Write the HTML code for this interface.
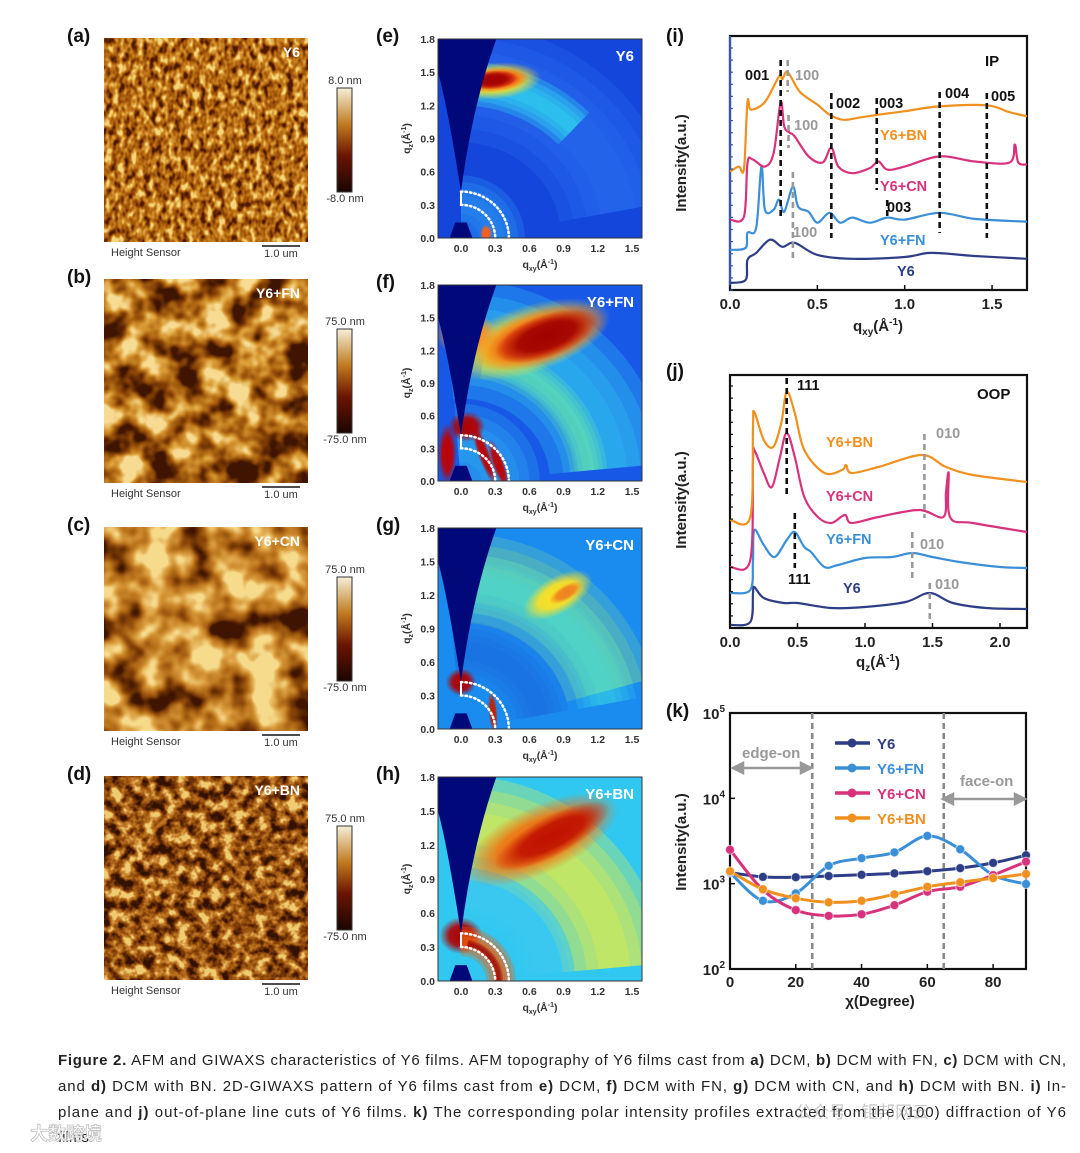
<!DOCTYPE html>
<html><head><meta charset="utf-8">
<style>
html,body{margin:0;padding:0;background:#fff;}
svg{display:block;font-family:"Liberation Sans","Noto Sans CJK SC",sans-serif;}
.b{font-weight:bold}
</style></head>
<body>
<svg id="fig" width="1080" height="1153" viewBox="0 0 1080 1153" xmlns="http://www.w3.org/2000/svg">
<defs id="defs">
  <linearGradient id="cbar" x1="0" y1="1" x2="0" y2="0">
    <stop offset="0" stop-color="#1a0500"/><stop offset="0.35" stop-color="#6a1500"/>
    <stop offset="0.65" stop-color="#c07a20"/><stop offset="1" stop-color="#f6efd8"/>
  </linearGradient>
  <filter id="afmFine" x="0" y="0" width="100%" height="100%" color-interpolation-filters="sRGB">
    <feTurbulence type="fractalNoise" baseFrequency="0.16 0.11" numOctaves="2" seed="4"/>
    <feColorMatrix type="matrix" values="2.2 0 0 0 -0.6  2.2 0 0 0 -0.6  2.2 0 0 0 -0.6  0 0 0 0 1"/>
    <feComponentTransfer>
      <feFuncR type="table" tableValues="0.3 0.56 0.72 0.84 0.96"/>
      <feFuncG type="table" tableValues="0.1 0.27 0.42 0.58 0.84"/>
      <feFuncB type="table" tableValues="0.0 0.02 0.07 0.18 0.48"/>
    </feComponentTransfer>
  </filter>
  <filter id="afmB" x="0" y="0" width="100%" height="100%" color-interpolation-filters="sRGB">
    <feTurbulence type="fractalNoise" baseFrequency="0.035" numOctaves="3" seed="11"/>
    <feColorMatrix type="matrix" values="2.6 0 0 0 -0.8  2.6 0 0 0 -0.8  2.6 0 0 0 -0.8  0 0 0 0 1"/>
    <feComponentTransfer>
      <feFuncR type="table" tableValues="0.25 0.5 0.7 0.86 0.97"/>
      <feFuncG type="table" tableValues="0.08 0.24 0.42 0.62 0.86"/>
      <feFuncB type="table" tableValues="0.0 0.02 0.08 0.22 0.58"/>
    </feComponentTransfer>
  </filter>
  <filter id="afmC" x="0" y="0" width="100%" height="100%" color-interpolation-filters="sRGB">
    <feTurbulence type="fractalNoise" baseFrequency="0.028" numOctaves="3" seed="23"/>
    <feColorMatrix type="matrix" values="2.4 0 0 0 -0.6  2.4 0 0 0 -0.6  2.4 0 0 0 -0.6  0 0 0 0 1"/>
    <feComponentTransfer>
      <feFuncR type="table" tableValues="0.25 0.52 0.72 0.86 0.97"/>
      <feFuncG type="table" tableValues="0.08 0.26 0.44 0.62 0.86"/>
      <feFuncB type="table" tableValues="0.0 0.03 0.1 0.25 0.55"/>
    </feComponentTransfer>
  </filter>
  <filter id="afmD" x="0" y="0" width="100%" height="100%" color-interpolation-filters="sRGB">
    <feTurbulence type="fractalNoise" baseFrequency="0.09" numOctaves="3" seed="7"/>
    <feColorMatrix type="matrix" values="2.4 0 0 0 -0.7  2.4 0 0 0 -0.7  2.4 0 0 0 -0.7  0 0 0 0 1"/>
    <feComponentTransfer>
      <feFuncR type="table" tableValues="0.2 0.42 0.62 0.78 0.94"/>
      <feFuncG type="table" tableValues="0.07 0.18 0.34 0.5 0.8"/>
      <feFuncB type="table" tableValues="0.0 0.02 0.06 0.17 0.45"/>
    </feComponentTransfer>
  </filter>
</defs>
<rect x="0" y="0" width="1080" height="1153" fill="#ffffff"/>
<g id="afm"></g>
<g id="giwaxs"></g>
<g id="pi"></g>
<g id="pj"></g>
<g id="pk"></g>
<g id="caption" font-size="15" fill="#222">
  <text x="58" y="1065" textLength="1008" lengthAdjust="spacing"><tspan class="b">Figure 2.</tspan> AFM and GIWAXS characteristics of Y6 films. AFM topography of Y6 films cast from <tspan class="b">a)</tspan> DCM, <tspan class="b">b)</tspan> DCM with FN, <tspan class="b">c)</tspan> DCM with CN,</text>
  <text x="58" y="1091" textLength="1008" lengthAdjust="spacing">and <tspan class="b">d)</tspan> DCM with BN. 2D-GIWAXS pattern of Y6 films cast from <tspan class="b">e)</tspan> DCM, <tspan class="b">f)</tspan> DCM with FN, <tspan class="b">g)</tspan> DCM with CN, and <tspan class="b">h)</tspan> DCM with BN. <tspan class="b">i)</tspan> In-</text>
  <text x="58" y="1117" textLength="1008" lengthAdjust="spacing">plane and <tspan class="b">j)</tspan> out-of-plane line cuts of Y6 films. <tspan class="b">k)</tspan> The corresponding polar intensity profiles extracted from the (100) diffraction of Y6</text>
  <text x="58" y="1142">films.</text>
</g>
<g>
  <text x="30" y="1140" font-size="18" font-weight="bold" fill="#fff" stroke="#bbb" stroke-width="0.8" opacity="0.9">大数跨境</text>
  <text x="795" y="1118" font-size="17" fill="#999" opacity="0.55">公众号 · 钜邦网云</text>
</g>
</svg>
<script>
const NS='http://www.w3.org/2000/svg';
function mk(parent,tag,attrs,txt){const e=document.createElementNS(NS,tag);for(const k in attrs)e.setAttribute(k,attrs[k]);if(txt!==undefined)e.textContent=txt;parent.appendChild(e);return e;}
function nm(e,name,inter){
  
  
  return e;}
function spline(pts){
  let d='M'+pts[0][0].toFixed(1)+','+pts[0][1].toFixed(1);
  for(let i=0;i<pts.length-1;i++){
    const p0=pts[Math.max(0,i-1)],p1=pts[i],p2=pts[i+1],p3=pts[Math.min(pts.length-1,i+2)];
    const c1=[p1[0]+(p2[0]-p0[0])/6,p1[1]+(p2[1]-p0[1])/6];
    const c2=[p2[0]-(p3[0]-p1[0])/6,p2[1]-(p3[1]-p1[1])/6];
    d+=' C'+c1[0].toFixed(1)+','+c1[1].toFixed(1)+' '+c2[0].toFixed(1)+','+c2[1].toFixed(1)+' '+p2[0].toFixed(1)+','+p2[1].toFixed(1);
  }
  return d;}

/* ---------------- data: panel (i) in-plane ---------------- */
const iQ_Y6=[0,0.09,0.1,0.15,0.23,0.3,0.37,0.5,0.7,1.0,1.15,1.4,1.7];
const iV_Y6=[2.8,4,11.9,14.6,19.8,17,18.6,13.8,12.3,13,14.6,13.4,12.3];
const iQ_FN=[0,0.09,0.1,0.15,0.18,0.2,0.25,0.28,0.31,0.36,0.39,0.45,0.5,0.57,0.63,0.7,0.8,0.9,1.0,1.2,1.4,1.7];
const iV_FN=[15.8,16.6,22.5,24.5,48.6,31.6,31.6,35.6,30.8,40.7,32.8,30.8,26.5,30.4,26.5,28.5,26.5,28.5,27.7,30.4,28,26.9];
const iQ_CN=[0,0.08,0.1,0.13,0.2,0.25,0.29,0.31,0.34,0.37,0.45,0.53,0.58,0.62,0.7,0.8,0.85,0.9,1.0,1.2,1.4,1.6,1.63,1.65,1.7];
const iV_CN=[27.7,28.9,50,51.4,48.6,54,74,64.4,62,60.5,52.6,50.2,56,48.6,46,48,50.6,47.4,48.6,52.6,50.6,50.2,57.3,50.2,49.4];
const iQ_BN=[0,0.05,0.08,0.1,0.12,0.2,0.28,0.3,0.33,0.4,0.5,0.57,0.65,0.75,0.85,1.0,1.2,1.47,1.6,1.7];
const iV_BN=[46.6,48.6,47.8,74,71,74,84,83,85.8,78,73,69,67,68,69,70.4,72.3,72.7,70,68.4];
const iXTicks=[0,0.5,1.0,1.5];
const iXTickLabels=['0.0','0.5','1.0','1.5'];

/* ---------------- data: panel (j) out-of-plane ---------------- */
const jQ_Y6=[0,0.15,0.17,0.18,0.25,0.4,0.5,0.75,1.0,1.3,1.48,1.65,1.9,2.2];
const jV_Y6=[3,6,35,41,30,25,25,20,21,26,35,25,20,19];
const jQ_FN=[0,0.15,0.17,0.18,0.25,0.33,0.42,0.48,0.55,0.6,0.7,0.8,1.0,1.2,1.35,1.5,1.7,2.0,2.2];
const jV_FN=[35,38,68,98,83,71,88,96,81,76,61,63,70,71,75,71,66,61,60];
const jQ_CN=[0,0.15,0.17,0.18,0.25,0.31,0.37,0.42,0.48,0.55,0.65,0.75,0.85,0.9,1.1,1.4,1.58,1.6,1.62,1.63,1.8,2.2];
const jV_CN=[61,68,168,178,155,141,171,195,171,131,111,105,113,105,111,118,111,136,155,111,105,96];
const jQ_BN=[0,0.15,0.17,0.18,0.25,0.32,0.38,0.42,0.48,0.55,0.7,0.83,0.86,0.9,1.1,1.42,1.6,1.8,2.2];
const jV_BN=[108,111,201,216,188,181,205,236,215,178,155,158,163,155,161,173,161,153,146];
const jXTicks=[0,0.5,1.0,1.5,2.0];
const jXTickLabels=['0.0','0.5','1.0','1.5','2.0'];

/* ---------------- data: panel (k) polar ---------------- */
const kChi=[0,10,20,30,40,50,60,70,80,90];
const kY6=[1350,1200,1190,1230,1270,1320,1400,1520,1750,2150];
const kFN=[1350,630,770,1620,1990,2330,3630,2530,1260,990];
const kCN=[2500,845,490,420,438,560,805,920,1260,1810];
const kBN=[1400,860,675,605,630,750,920,1040,1160,1300];
const kXTicks=[0,20,40,60,80];
const kYTickExp=[2,3,4,5];

/* ---------------- AFM panels ---------------- */
const afm=document.getElementById('afm');
const afmPanels=[
 {lab:'(a)',y:38,cb:88,filt:'afmFine',name:'Y6',top:'8.0 nm',bot:'-8.0 nm'},
 {lab:'(b)',y:279,cb:329,filt:'afmB',name:'Y6+FN',top:'75.0 nm',bot:'-75.0 nm'},
 {lab:'(c)',y:527,cb:577,filt:'afmC',name:'Y6+CN',top:'75.0 nm',bot:'-75.0 nm'},
 {lab:'(d)',y:776,cb:826,filt:'afmD',name:'Y6+BN',top:'75.0 nm',bot:'-75.0 nm'}];
afmPanels.forEach((p,i)=>{
  const g=mk(afm,'g',{});
  nm(g,'afm-panel-'+'abcd'[i],false);
  const l=mk(g,'text',{x:67,y:p.y+4,'font-size':19,'font-weight':'bold',fill:'#111'},p.lab);
  nm(l,'panel-label',false);
  const r=mk(g,'rect',{x:104,y:p.y,width:204,height:204,filter:'url(#'+p.filt+')'});
  nm(r,'afm-image',false);
  const t=mk(g,'text',{x:300,y:p.y+19,'font-size':14,'font-weight':'bold',fill:'#fff','text-anchor':'end'},p.name);
  nm(t,'sample-label',false);
  const cb=mk(g,'rect',{x:337,y:p.cb,width:15,height:104,fill:'url(#cbar)',stroke:'#333','stroke-width':1});
  nm(cb,'colorbar',false);
  const ct=mk(g,'text',{x:345,y:p.cb-4,'font-size':11,fill:'#333','text-anchor':'middle'},p.top);
  nm(ct,'colorbar-max',false);
  const cbt=mk(g,'text',{x:345,y:p.cb+114,'font-size':11,fill:'#333','text-anchor':'middle'},p.bot);
  nm(cbt,'colorbar-min',false);
  const hs=mk(g,'text',{x:111,y:p.y+218,'font-size':11,fill:'#333'},'Height Sensor');
  nm(hs,'height-sensor-label',false);
  const sb=mk(g,'line',{x1:262,x2:300,y1:p.y+208,y2:p.y+208,stroke:'#111','stroke-width':1.5});
  nm(sb,'scale-bar',false);
  const st=mk(g,'text',{x:281,y:p.y+219,'font-size':11,fill:'#333','text-anchor':'middle'},'1.0 um');
  nm(st,'scale-bar-label',false);
});

/* ---------------- GIWAXS panels ---------------- */
const defs=document.getElementById('defs');
const gradCache={};
function rg(col){
  if(gradCache[col])return gradCache[col];
  const id='rg'+Object.keys(gradCache).length;
  const r=mk(defs,'radialGradient',{id:id});
  mk(r,'stop',{offset:'0','stop-color':col,'stop-opacity':1});
  mk(r,'stop',{offset:'0.55','stop-color':col,'stop-opacity':0.9});
  mk(r,'stop',{offset:'1','stop-color':col,'stop-opacity':0});
  gradCache[col]='url(#'+id+')';
  return gradCache[col];
}
const gw=document.getElementById('giwaxs');
const gwPanels=[
 {lab:'(e)',top:39,bot:238,name:'Y6',bg:'#1446dc'},
 {lab:'(f)',top:285,bot:481,name:'Y6+FN',bg:'#1858e6'},
 {lab:'(g)',top:528,bot:729,name:'Y6+CN',bg:'#1a8cf0'},
 {lab:'(h)',top:777,bot:981,name:'Y6+BN',bg:'#30c8f0'}];
const gTicks=[0,0.3,0.6,0.9,1.2,1.5];
const gYTicks=[0,0.3,0.6,0.9,1.2,1.5,1.8];
gwPanels.forEach((p,i)=>{
  const g=mk(gw,'g',{});
  nm(g,'giwaxs-panel-'+'efgh'[i],false);
  const X=q=>461+q*114, Y=q=>p.bot-q/1.8*(p.bot-p.top);
  const L=438,R=642;
  const cid='clip'+i;
  const cp=mk(g,'clipPath',{id:cid}); mk(cp,'rect',{x:L,y:p.top,width:R-L,height:p.bot-p.top});
  const lab=mk(g,'text',{x:376,y:p.top+3,'font-size':19,'font-weight':'bold',fill:'#111'},p.lab);
  nm(lab,'panel-label',false);
  const im=mk(g,'g',{'clip-path':'url(#'+cid+')'});
  nm(im,'giwaxs-image',false);
  mk(im,'rect',{x:L,y:p.top,width:R-L,height:p.bot-p.top,fill:p.bg});
  const ky=(p.bot-p.top)/1.8;
  const ring=(r1,r2,a1,a2,col,op)=>{ // soft ring made of stacked translucent arcs
    const rm=(r1+r2)/2, w=(r2-r1)*114;
    const A1=a1*Math.PI/180,A2=a2*Math.PI/180;
    const d='M'+X(rm*Math.cos(A1))+','+Y(rm*Math.sin(A1))+' A'+rm*114+','+rm*ky+' 0 0 0 '+X(rm*Math.cos(A2))+','+Y(rm*Math.sin(A2));
    [1.3,1.0,0.7,0.4].forEach(f=>{
      mk(im,'path',{d:d,fill:'none',stroke:col,'stroke-width':w*f,opacity:op*0.35});
    });
  };
  const blob=(cx,cy,rx,ry,rot,col)=>{
    mk(im,'ellipse',{cx:X(cx),cy:Y(cy),rx:rx*114*1.35,ry:ry*114*1.35,fill:rg(col),transform:'rotate('+rot+' '+X(cx)+' '+Y(cy)+')'});
  };
  if(i===0){
    ring(1.0,1.8,10,95,'#2a70f0',0.8);
    ring(1.25,1.55,45,95,'#30d8f0',0.9);
    blob(0.3,1.42,0.3,0.12,-5,'#ffe020');
    blob(0.3,1.43,0.22,0.08,-5,'#f04010');
    blob(0.28,1.43,0.16,0.06,-5,'#a00000');
    ring(0.1,0.5,0,90,'#2a90f0',0.9);
    blob(0.22,0.04,0.04,0.06,0,'#ff6010');
  } else if(i===1){
    ring(0.9,1.7,5,95,'#30c0f0',0.9);
    ring(1.0,1.25,5,80,'#70f0a0',0.6);
    blob(0.6,1.3,0.55,0.22,-18,'#ffd820');
    blob(0.7,1.32,0.45,0.18,-18,'#f05010');
    blob(0.75,1.33,0.35,0.14,-20,'#a00000');
    blob(0.05,1.35,0.2,0.15,0,'#ff9020');
    ring(0.0,0.6,0,95,'#30b0f0',0.8);
    blob(0.05,0.5,0.12,0.1,0,'#b00000');
    blob(-0.12,0.25,0.06,0.2,0,'#c00000');
    blob(0.2,0.25,0.04,0.22,-20,'#c00000');
    blob(0.33,0.15,0.04,0.18,-20,'#c00000');
  } else if(i===2){
    ring(0.5,0.9,10,95,'#1b6ce0',0.8);
    ring(1.05,1.65,15,95,'#a0f070',0.55);
    ring(1.1,1.5,10,95,'#40e0e0',0.5);
    blob(0.85,1.2,0.25,0.12,-30,'#ffe020');
    blob(0.92,1.22,0.12,0.05,-30,'#f08020');
    blob(0,0.42,0.1,0.09,0,'#b00000');
    blob(0.28,0.15,0.03,0.14,-5,'#c02000');
  } else {
    ring(1.0,1.7,5,95,'#e8f040',0.9);
    ring(0.6,0.95,5,95,'#40c8f0',0.8);
    blob(0.7,1.25,0.55,0.22,-25,'#f07010');
    blob(0.8,1.28,0.42,0.13,-28,'#c01000');
    blob(0.0,0.4,0.14,0.12,0,'#b00000');
    ring(0.25,0.45,0,90,'#f06010',0.9);
    ring(0.3,0.36,0,80,'#a00000',0.9);
  }
  const w=mk(im,'path',{d:'M'+X(0)+','+Y(0.42)+' Q'+X(0.1)+','+Y(1.2)+' '+X(0.31)+','+Y(1.8)+' L'+L+','+Y(1.8)+' L'+L+','+Y(1.5)+' Q'+X(-0.12)+','+Y(1.2)+' '+X(0)+','+Y(0.42)+' Z',fill:'#00087a'});
  nm(w,'beamstop-wedge',false);
  mk(im,'path',{d:'M'+X(-0.1)+','+Y(0)+' L'+X(-0.05)+','+Y(0.14)+' L'+X(0.05)+','+Y(0.14)+' L'+X(0.1)+','+Y(0)+' Z',fill:'#00087a'});
  [0.3,0.42].forEach(r=>{
    const a=mk(im,'path',{d:'M'+X(0)+','+Y(r)+' A'+r*114+','+r*ky+' 0 0 1 '+X(r)+','+Y(0),fill:'none',stroke:'#fff','stroke-width':2.5,'stroke-dasharray':'1.5 3','stroke-linecap':'round'});
    nm(a,'integration-arc',false);
  });
  mk(im,'line',{x1:X(0),x2:X(0),y1:Y(0.3),y2:Y(0.42),stroke:'#fff','stroke-width':2});
  const sn=mk(g,'text',{x:R-8,y:p.top+22,'font-size':15,'font-weight':'bold',fill:'#fff','text-anchor':'end'},p.name);
  nm(sn,'sample-label',false);
  mk(g,'rect',{x:L,y:p.top,width:R-L,height:p.bot-p.top,fill:'none',stroke:'#333','stroke-width':1});
  gTicks.forEach(t=>{
    const tx=mk(g,'text',{x:X(t),y:p.bot+14,'font-size':10.5,'font-weight':'bold',fill:'#333','text-anchor':'middle'},t.toFixed(1));
    nm(tx,'x-tick-label',false);
  });
  gYTicks.forEach(t=>{
    const tx=mk(g,'text',{x:435,y:Y(t)+4,'font-size':10.5,'font-weight':'bold',fill:'#333','text-anchor':'end'},t.toFixed(1));
    nm(tx,'y-tick-label',false);
  });
  const xt=mk(g,'text',{x:540,y:p.bot+30,'font-size':10.5,'font-weight':'bold',fill:'#333','text-anchor':'middle'});
  nm(xt,'x-axis-title',false);
  xt.innerHTML='q<tspan font-size="7" dy="3">xy</tspan><tspan dy="-3">(Å</tspan><tspan font-size="7" dy="-4">-1</tspan><tspan dy="4">)</tspan>';
  const cy=(p.top+p.bot)/2;
  const yt=mk(g,'text',{x:0,y:0,'font-size':10.5,'font-weight':'bold',fill:'#333','text-anchor':'middle',transform:'translate(410,'+cy+') rotate(-90)'});
  nm(yt,'y-axis-title',false);
  yt.innerHTML='q<tspan font-size="7" dy="3">z</tspan><tspan dy="-3">(Å</tspan><tspan font-size="7" dy="-4">-1</tspan><tspan dy="4">)</tspan>';
});

/* ---------------- line panels common ---------------- */
function frame(g,L,T,R,B,lab,labY){
  const l=mk(g,'text',{x:666,y:labY,'font-size':19,'font-weight':'bold',fill:'#111'},lab);
  nm(l,'panel-label',false);
  const f=mk(g,'rect',{x:L,y:T,width:R-L,height:B-T,fill:'none',stroke:'#111','stroke-width':2.2});
  nm(f,'plot-frame',false);
}
function axTitleY(g,cx,cy,txt){
  const t=mk(g,'text',{x:0,y:0,'font-size':15,'font-weight':'bold',fill:'#222','text-anchor':'middle',transform:'translate('+cx+','+cy+') rotate(-90)'},txt);
  nm(t,'y-axis-title',false);
}
const COL={Y6:'#2d3e86',FN:'#3a8fd6',CN:'#d8327c',BN:'#f0901e'};
function lbl(g,x,y,txt,col,name,fs){const t=mk(g,'text',{x:x,y:y,'font-size':fs||14.5,'font-weight':'bold',fill:col},txt);nm(t,name,false);return t;}
function dash(g,x,y1,y2,col,name){const d=mk(g,'line',{x1:x,x2:x,y1:y1,y2:y2,stroke:col,'stroke-width':2.6,'stroke-dasharray':'6 4'});nm(d,name,false);}

/* ---------------- panel (i) ---------------- */
(function(){
  const g=document.getElementById('pi');
  const L=730,R=1027,T=36,B=290;
  const xs=q=>L+q/1.7*(R-L), ys=v=>B-v/100*(B-T);
  frame(g,L,T,R,B,'(i)',42);
  mk(g,'line',{x1:L,x2:L,y1:T,y2:B,stroke:'#3558a8','stroke-width':2.2});
  [[iQ_Y6,iV_Y6,'Y6'],[iQ_FN,iV_FN,'FN'],[iQ_CN,iV_CN,'CN'],[iQ_BN,iV_BN,'BN']].forEach(s=>{
    const pts=s[0].map((q,k)=>[xs(q),ys(s[1][k])]);
    const p=mk(g,'path',{d:spline(pts),fill:'none',stroke:COL[s[2]],'stroke-width':2.2});
    nm(p,'curve-'+s[2].toLowerCase(),false);
  });
  for(let k=0;k<21;k++){mk(g,'line',{x1:L,x2:L+3,y1:B-k*12.1,y2:B-k*12.1,stroke:'#3558a8','stroke-width':1.2});}
  iXTicks.forEach((t,k)=>{
    mk(g,'line',{x1:xs(t),x2:xs(t),y1:B,y2:B-5,stroke:'#111','stroke-width':1.5});
    const tx=mk(g,'text',{x:xs(t),y:B+19,'font-size':15,'font-weight':'bold',fill:'#222','text-anchor':'middle'},iXTickLabels[k]);
    nm(tx,'x-tick-label',false);
  });
  dash(g,xs(0.29),60,220,'#111','peak-001-marker');
  dash(g,xs(0.33),60,92,'#999','peak-100-marker');
  dash(g,xs(0.335),115,148,'#999','peak-100-marker');
  dash(g,xs(0.36),172,260,'#999','peak-100-marker');
  dash(g,xs(0.58),93,238,'#111','peak-002-marker');
  dash(g,xs(0.84),98,190,'#111','peak-003-marker');
  dash(g,xs(0.9),200,218,'#111','peak-003-marker');
  dash(g,xs(1.2),92,233,'#111','peak-004-marker');
  dash(g,xs(1.47),93,238,'#111','peak-005-marker');
  lbl(g,985,66,'IP','#111','ip-label',15);
  lbl(g,745,80,'001','#111','label-001');
  lbl(g,795,80,'100','#999','label-100');
  lbl(g,836,108,'002','#111','label-002');
  lbl(g,879,108,'003','#111','label-003');
  lbl(g,945,98,'004','#111','label-004');
  lbl(g,991,101,'005','#111','label-005');
  lbl(g,794,130,'100','#999','label-100');
  lbl(g,880,140,'Y6+BN',COL.BN,'label-y6-bn');
  lbl(g,880,191,'Y6+CN',COL.CN,'label-y6-cn');
  lbl(g,887,212,'003','#111','label-003');
  lbl(g,880,245,'Y6+FN',COL.FN,'label-y6-fn');
  lbl(g,793,237,'100','#999','label-100');
  lbl(g,897,276,'Y6',COL.Y6,'label-y6');
  axTitleY(g,686,163,'Intensity(a.u.)');
  const xt=mk(g,'text',{x:878,y:331,'font-size':15,'font-weight':'bold',fill:'#222','text-anchor':'middle'});
  nm(xt,'x-axis-title',false);
  xt.innerHTML='q<tspan font-size="10" dy="4">xy</tspan><tspan dy="-4">(Å</tspan><tspan font-size="10" dy="-6">-1</tspan><tspan dy="6">)</tspan>';
})();

/* ---------------- panel (j) ---------------- */
(function(){
  const g=document.getElementById('pj');
  const L=730,R=1027,T=375,B=628;
  const xs=q=>L+q/2.2*(R-L), ys=v=>B-v;
  frame(g,L,T,R,B,'(j)',377);
  [[jQ_Y6,jV_Y6,'Y6'],[jQ_FN,jV_FN,'FN'],[jQ_CN,jV_CN,'CN'],[jQ_BN,jV_BN,'BN']].forEach(s=>{
    const pts=s[0].map((q,k)=>[xs(q),ys(s[1][k])]);
    const p=mk(g,'path',{d:spline(pts),fill:'none',stroke:COL[s[2]],'stroke-width':2.2});
    nm(p,'curve-'+s[2].toLowerCase(),false);
  });
  for(let k=0;k<21;k++){mk(g,'line',{x1:L,x2:L+3,y1:B-k*12.1,y2:B-k*12.1,stroke:'#111','stroke-width':1.2});}
  jXTicks.forEach((t,k)=>{
    mk(g,'line',{x1:xs(t),x2:xs(t),y1:B,y2:B-5,stroke:'#111','stroke-width':1.5});
    const tx=mk(g,'text',{x:xs(t),y:B+19,'font-size':15,'font-weight':'bold',fill:'#222','text-anchor':'middle'},jXTickLabels[k]);
    nm(tx,'x-tick-label',false);
  });
  dash(g,xs(0.42),378,498,'#111','peak-111-marker');
  dash(g,xs(0.48),513,568,'#111','peak-111-marker');
  dash(g,xs(1.44),434,518,'#999','peak-010-marker');
  dash(g,xs(1.35),532,580,'#999','peak-010-marker');
  dash(g,xs(1.48),583,620,'#999','peak-010-marker');
  lbl(g,797,390,'111','#111','label-111');
  lbl(g,977,399,'OOP','#111','oop-label',15);
  lbl(g,936,438,'010','#999','label-010');
  lbl(g,826,447,'Y6+BN',COL.BN,'label-y6-bn');
  lbl(g,826,501,'Y6+CN',COL.CN,'label-y6-cn');
  lbl(g,826,544,'Y6+FN',COL.FN,'label-y6-fn');
  lbl(g,920,549,'010','#999','label-010');
  lbl(g,788,584,'111','#111','label-111');
  lbl(g,843,593,'Y6',COL.Y6,'label-y6');
  lbl(g,935,589,'010','#999','label-010');
  axTitleY(g,686,500,'Intensity(a.u.)');
  const xt=mk(g,'text',{x:878,y:667,'font-size':15,'font-weight':'bold',fill:'#222','text-anchor':'middle'});
  nm(xt,'x-axis-title',false);
  xt.innerHTML='q<tspan font-size="10" dy="4">z</tspan><tspan dy="-4">(Å</tspan><tspan font-size="10" dy="-6">-1</tspan><tspan dy="6">)</tspan>';
})();

/* ---------------- panel (k) ---------------- */
(function(){
  const g=document.getElementById('pk');
  const L=730,R=1026,T=713,B=969;
  const xs=c=>L+c/90*(R-L), ys=v=>B-(Math.log10(v)-2)/3*(B-T);
  frame(g,L,T,R,B,'(k)',717);
  dash(g,xs(25),T,B,'#888','edge-on-boundary');
  dash(g,xs(65),T,B,'#888','face-on-boundary');
  [[kY6,'Y6'],[kFN,'FN'],[kCN,'CN'],[kBN,'BN']].forEach(s=>{
    const pts=kChi.map((c,k)=>[xs(c),ys(s[0][k])]);
    const p=mk(g,'path',{d:spline(pts),fill:'none',stroke:COL[s[1]],'stroke-width':3});
    nm(p,'curve-'+s[1].toLowerCase(),false);
    pts.forEach(pt=>{
      const c=mk(g,'circle',{cx:pt[0],cy:pt[1],r:4.5,fill:COL[s[1]],stroke:'#fff','stroke-width':1,'stroke-opacity':0.6});
      nm(c,'point-'+s[1].toLowerCase(),false);
    });
  });
  kXTicks.forEach(t=>{
    mk(g,'line',{x1:xs(t),x2:xs(t),y1:B,y2:B-5,stroke:'#111','stroke-width':1.5});
    const tx=mk(g,'text',{x:xs(t),y:B+18,'font-size':15,'font-weight':'bold',fill:'#222','text-anchor':'middle'},String(t));
    nm(tx,'x-tick-label',false);
  });
  kYTickExp.forEach(e=>{
    const y=ys(Math.pow(10,e));
    mk(g,'line',{x1:L,x2:L+5,y1:y,y2:y,stroke:'#111','stroke-width':1.5});
    const tx=mk(g,'text',{x:L-5,y:y+6,'font-size':15,'font-weight':'bold',fill:'#222','text-anchor':'end'});
    nm(tx,'y-tick-label',false);
    tx.innerHTML='10<tspan font-size="10" dy="-7">'+e+'</tspan>';
  });
  const leg=[['Y6','Y6'],['FN','Y6+FN'],['CN','Y6+CN'],['BN','Y6+BN']];
  leg.forEach((e,k)=>{
    const y=743+k*25;
    const ln=mk(g,'line',{x1:835,x2:870,y1:y,y2:y,stroke:COL[e[0]],'stroke-width':3.5});
    nm(ln,'legend-line-'+e[0].toLowerCase(),false);
    mk(g,'circle',{cx:852,cy:y,r:4.5,fill:COL[e[0]]});
    const t=mk(g,'text',{x:877,y:y+6,'font-size':15,'font-weight':'bold',fill:COL[e[0]]},e[1]);
    nm(t,'legend-entry-'+e[0].toLowerCase(),false);
  });
  const et=mk(g,'text',{x:742,y:758,'font-size':15,'font-weight':'bold',fill:'#999'},'edge-on');
  nm(et,'edge-on-label',false);
  const ea=mk(g,'path',{d:'M733,768 L811,768 M733,768 l10,-5 v10 z M811,768 l-10,-5 v10 z',stroke:'#999','stroke-width':2.5,fill:'#999'});
  nm(ea,'edge-on-arrow',false);
  const ft=mk(g,'text',{x:960,y:786,'font-size':15,'font-weight':'bold',fill:'#999'},'face-on');
  nm(ft,'face-on-label',false);
  const fa=mk(g,'path',{d:'M943,799 L1025,799 M943,799 l10,-5 v10 z M1025,799 l-10,-5 v10 z',stroke:'#999','stroke-width':2.5,fill:'#999'});
  nm(fa,'face-on-arrow',false);
  axTitleY(g,686,842,'Intensity(a.u.)');
  const xt=mk(g,'text',{x:880,y:1006,'font-size':15,'font-weight':'bold',fill:'#222','text-anchor':'middle'},'χ(Degree)');
  nm(xt,'x-axis-title',false);
})();
</script>
</body></html>
